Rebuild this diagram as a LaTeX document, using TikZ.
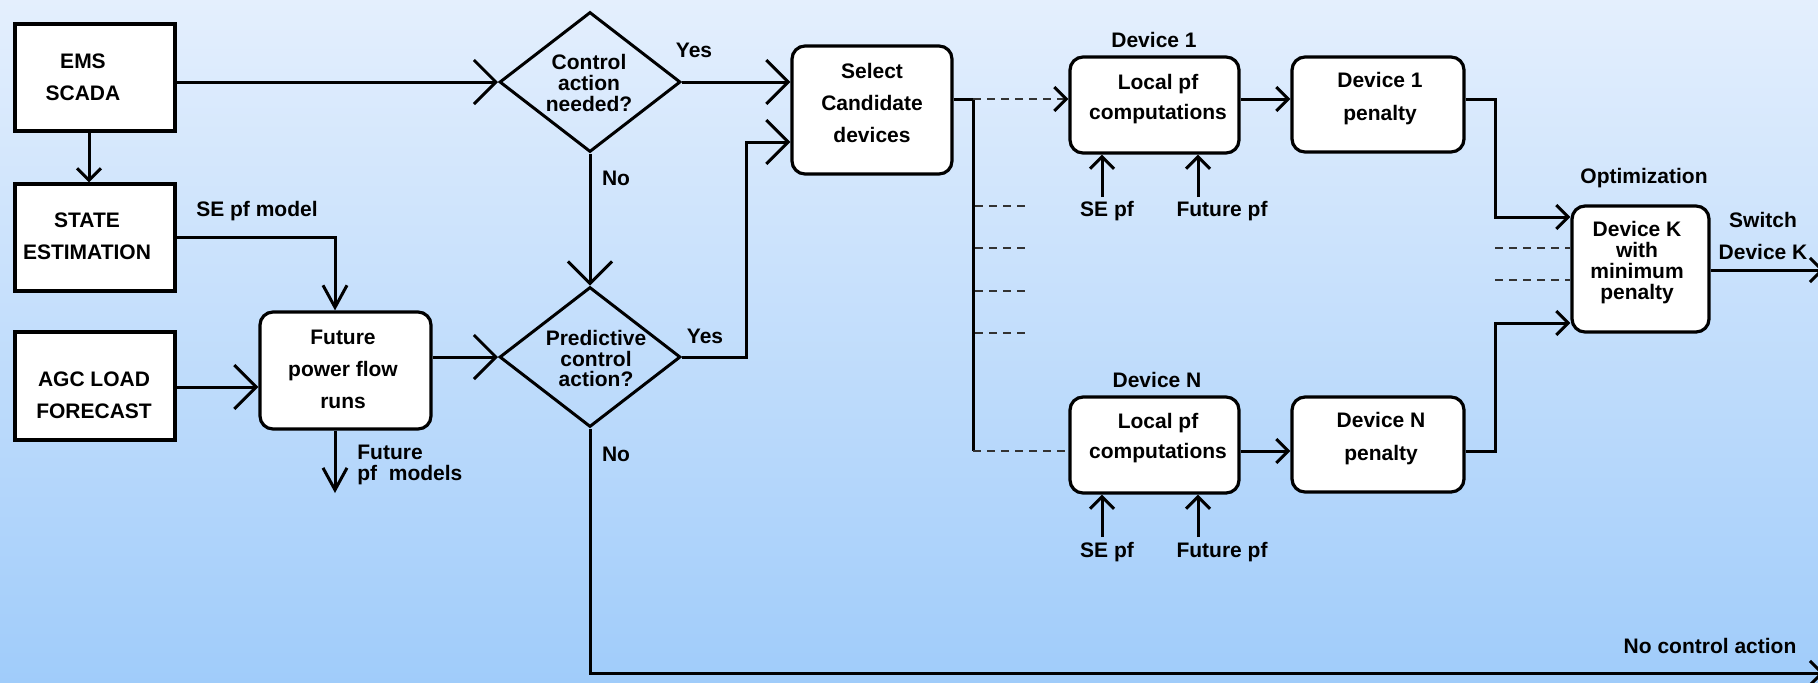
\documentclass[tikz,border=0pt]{standalone}
\usepackage{fontspec}
\setmainfont{Liberation Sans}
\usetikzlibrary{arrows.meta,shapes.geometric,calc}
\definecolor{bgtop}{RGB}{228,239,253}
\definecolor{bgbot}{RGB}{160,204,250}
\tikzset{
  txt/.style={font=\bfseries\fontsize{10.5pt}{16pt}\selectfont, align=center, inner sep=0pt},
  tighttxt/.style={font=\bfseries\fontsize{10.5pt}{10.4pt}\selectfont, align=center, inner sep=0pt},
  sbox/.style={draw, line width=1.6pt, fill=white, inner sep=0pt},
  rbox/.style={sbox, rounded corners=6.5pt},
  dmd/.style={diamond, draw, line width=1.5pt, inner sep=0pt, minimum width=90.5pt, minimum height=70pt},
  conn/.style={line width=1.5pt},
  dashln/.style={line width=0.6pt, draw=black!80, dash pattern=on 4pt off 3pt},
  bigtip/.style={-{Straight Barb[length=11pt,width=22pt]}},
  smalltip/.style={-{Straight Barb[length=6pt,width=12pt]}},
  dashtip/.style={-{Straight Barb[length=6pt,width=12pt,line width=1.5pt,black]}},
  narrowtip/.style={-{Straight Barb[length=11pt,width=12pt]}}
}
\begin{document}
\begin{tikzpicture}[x=0.5pt,y=-0.5pt]
\useasboundingbox (0,0) rectangle (1818,682);
\shade[top color=bgtop, bottom color=bgbot] (0,0) rectangle (1818,682);

% boxes
\node[sbox, minimum width=80pt, minimum height=53.5pt] (ems) at (95,77.5) {};
\node[txt] (emst) at (83,77) {EMS\\SCADA};
\node[sbox, minimum width=80pt, minimum height=53.5pt] (se) at (95,237.5) {};
\node[txt] (set) at (87,236) {STATE\\ESTIMATION};
\node[sbox, minimum width=80pt, minimum height=54pt] (agc) at (95,386) {};
\node[txt] (agct) at (94,395) {AGC LOAD\\FORECAST};
\node[rbox, minimum width=85.5pt, minimum height=58.5pt] (fut) at (345.5,370.5) {};
\node[txt] (futt) at (343,369) {Future\\power flow\\runs};

\node[dmd] (ctl) at (590,82) {};
\node[tighttxt] (ctlt) at (589,83) {Control\\action\\needed?};
\node[dmd] (pre) at (590,357) {};
\node[tighttxt] (pret) at (596,358.5) {Predictive\\control\\action?};

\node[rbox, minimum width=80pt, minimum height=64pt] (sel) at (872,110) {};
\node[txt] (selt) at (872,103) {Select\\Candidate\\devices};

\node[rbox, minimum width=84.5pt, minimum height=48pt] (loc1) at (1154.5,105) {};
\node[txt, font=\bfseries\fontsize{10.5pt}{15pt}\selectfont] (loc1t) at (1158,99) {Local pf\\computations};
\node[rbox, minimum width=86pt, minimum height=47.5pt] (pen1) at (1378,104.5) {};
\node[txt, font=\bfseries\fontsize{10.5pt}{16.5pt}\selectfont] (pen1t) at (1380,99) {Device 1\\penalty};
\node[rbox, minimum width=84.5pt, minimum height=48pt] (locN) at (1154.5,445) {};
\node[txt, font=\bfseries\fontsize{10.5pt}{15pt}\selectfont] (locNt) at (1158,438.5) {Local pf\\computations};
\node[rbox, minimum width=86pt, minimum height=47.5pt] (penN) at (1378,444.5) {};
\node[txt, font=\bfseries\fontsize{10.5pt}{16.5pt}\selectfont] (penNt) at (1381,439) {Device N\\penalty};

\node[rbox, minimum width=68.5pt, minimum height=63pt] (opt) at (1640.5,269) {};
\node[tighttxt] (optt) at (1637,262.5) {Device K\\with\\minimum\\penalty};

% labels
\node[txt] (yes1) at (694,50) {Yes};
\node[txt] (yes2) at (705,336) {Yes};
\node[txt] (no1) at (616,178) {No};
\node[txt] (no2) at (616,454) {No};
\node[txt] (sepf) at (257,211) {SE pf model};
\node[tighttxt, align=left, anchor=west] (fpml) at (357,465) {Future\\pf\ \ models};
\node[txt] (dev1) at (1154,40) {Device 1};
\node[txt] (devN) at (1157,380) {Device N};
\node[txt] (optl) at (1644,178) {Optimization};
\node[txt] (sw) at (1763,236) {Switch\\Device K};
\node[txt] (nca) at (1710,646) {No control action};
\node[txt] (se1l) at (1107,211) {SE pf};
\node[txt] (fu1l) at (1222,211) {Future pf};
\node[txt] (seNl) at (1107,552) {SE pf};
\node[txt] (fuNl) at (1222,552) {Future pf};

% coordinates
\coordinate (fpm) at (335,493);
\coordinate (trunkT) at (973,99);
\coordinate (trunkB) at (973,451);
\coordinate (swout) at (1824,270);
\coordinate (noend) at (1824,673);
\coordinate (se1) at (1102,197);
\coordinate (fu1) at (1198,197);
\coordinate (seN) at (1102,537);
\coordinate (fuN) at (1198,537);

% connectors
\draw[conn,bigtip] (ems.east |- ctl.west) -- (ctl.west);
\draw[conn,smalltip] ([xshift=-3pt]ems.south) -- ([xshift=-3pt]se.north);
\draw[conn,narrowtip] (se.east) -| ([xshift=-5.25pt]fut.north);
\draw[conn,bigtip] (agc.east |- 0,387) -- (fut.west |- 0,387);
\draw[conn,narrowtip] ([xshift=-5.25pt]fut.south) -- (fpm);
\draw[conn,bigtip] (fut.east |- pre.west) -- (pre.west);
\draw[conn,bigtip] (ctl.south) -- (pre.north);
\draw[conn,bigtip] (ctl.east) -- (ctl.east -| sel.west);
\draw[conn,bigtip] (pre.east) -- ++(64,0) |- ([yshift=-16pt]sel.west);
\draw[conn,smalltip] (pre.south) |- (noend);

\draw[conn] (sel.east |- trunkT) -- (trunkT) -- (trunkB);
\draw[dashln,dashtip] (trunkT) -- (trunkT -| loc1.west);
\draw[dashln] (trunkB) -- (trunkB -| locN.west);
\foreach \yy in {206,248,291,333} { \draw[dashln] (975,\yy) -- (1028,\yy); }

\draw[conn,smalltip] (loc1.east |- trunkT) -- (pen1.west |- trunkT);
\draw[conn,smalltip] (locN.east |- trunkB) -- (penN.west |- trunkB);

\draw[conn,smalltip] (pen1.east |- trunkT) -| ([xshift=-37.5pt,yshift=26pt]opt.west) -- ([yshift=26pt]opt.west);
\draw[conn,smalltip] (penN.east |- trunkB) -| ([xshift=-37.5pt,yshift=-27pt]opt.west) -- ([yshift=-27pt]opt.west);
\draw[dashln] (1495,248) -- (opt.west |- 0,248);
\draw[dashln] (1495,280) -- (opt.west |- 0,280);
\draw[conn,smalltip] (opt.east |- swout) -- (swout);

\draw[conn,smalltip] (se1) -- (se1 |- loc1.south);
\draw[conn,smalltip] (fu1) -- (fu1 |- loc1.south);
\draw[conn,smalltip] (seN) -- (seN |- locN.south);
\draw[conn,smalltip] (fuN) -- (fuN |- locN.south);
\end{tikzpicture}
\end{document}
